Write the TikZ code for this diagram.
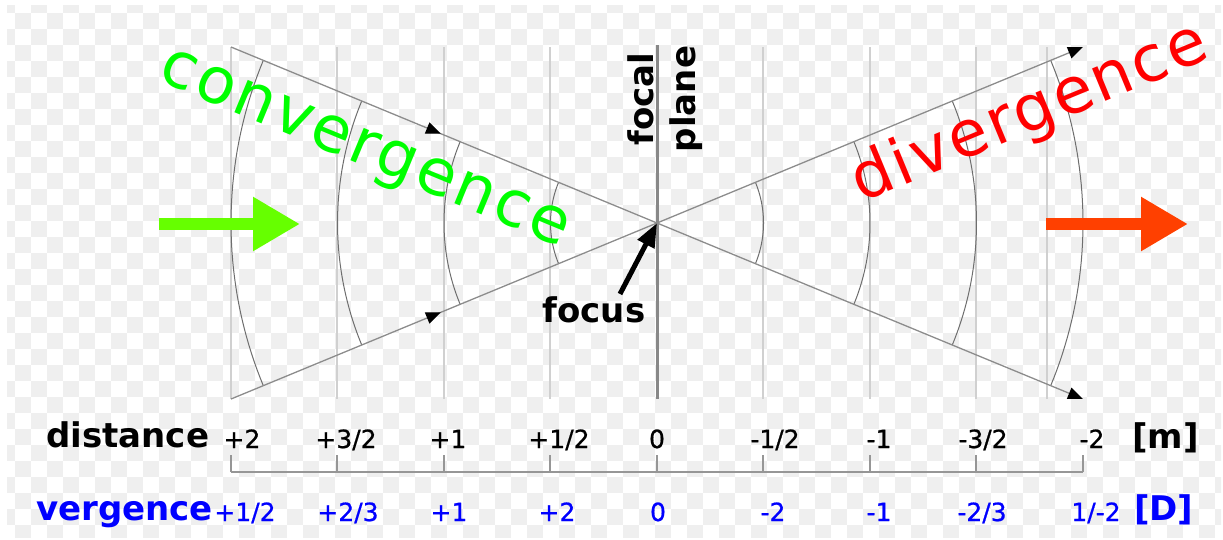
\documentclass[tikz,border=0pt]{standalone}
\usepackage{fontspec}
\setmainfont{DejaVu Sans}
\newfontfamily\numfont[FakeBold=0.8]{DejaVu Sans}
\usetikzlibrary{arrows.meta,decorations.markings}
\definecolor{checker}{RGB}{239,239,239}
\definecolor{gridc}{RGB}{208,208,208}
\definecolor{rayc}{RGB}{140,140,140}
\definecolor{arcc}{RGB}{110,110,110}
\definecolor{planec}{RGB}{136,136,136}
\definecolor{convg}{RGB}{0,255,0}
\definecolor{divr}{RGB}{255,0,0}
\definecolor{garrow}{RGB}{102,255,0}
\definecolor{rarrow}{RGB}{255,64,0}
\definecolor{vblue}{RGB}{0,0,255}
\definecolor{axisc}{RGB}{150,150,150}
\begin{document}
\begin{tikzpicture}[x=1pt,y=-1pt,
  gridln/.style={draw=gridc,line width=1.2pt},
  planeln/.style={draw=planec,line width=3pt},
  rayline/.style={draw=rayc,line width=1.3pt},
  raytip/.style={-{Triangle[length=15pt,width=12pt,color=black]}},
  midtip/.style={postaction={decorate},decoration={markings,
     mark=at position 0.493 with {\arrow[color=black]{Triangle[length=15pt,width=12pt]}}}},
  wavearc/.style={draw=arcc,line width=1pt},
  axisln/.style={draw=axisc,line width=1.3pt},
  numlbl/.style={font=\numfont\fontsize{25}{30}\selectfont,anchor=base,inner sep=0pt},
  vnumlbl/.style={numlbl,text=vblue},
  bigword/.style={font=\fontsize{64}{70}\selectfont,inner sep=0pt},
  unitword/.style={font=\bfseries\fontsize{34}{40}\selectfont,inner sep=0pt,anchor=base west},
  fatarrow/.style={line width=12pt,-{Triangle[length=47pt,width=51pt]}},
]
\useasboundingbox (0,0) rectangle (1223,539);
% checkerboard background
\begin{scope}
\clip (7,5) rectangle (1221,537);
\foreach \i in {0,...,76}{
  \foreach \j in {0,...,33}{
    \ifodd\numexpr\i+\j\relax\else
      \fill[checker] ({-1+16*\i},{-3+16*\j}) rectangle ++(16,16);
    \fi
  }
}
\end{scope}
% grid lines
\foreach \x in {231,337,444,550,763,870,976,1047}
  \draw[gridln] (\x,47) -- (\x,399);
% key points
\coordinate (F) at (657,223);
\coordinate (UL) at (231,47);
\coordinate (LL) at (231,399);
\coordinate (UR) at (1083,47);
\coordinate (LR) at (1083,399);
% wavefronts
\foreach \r in {106.5,213,319.5,426}{
  \draw[wavearc] plot[domain=157.55:202.45,samples=40] ({657+\r*cos(\x)},{223+\r*sin(\x)});
  \draw[wavearc] plot[domain=-22.45:22.45,samples=40] ({657+\r*cos(\x)},{223+\r*sin(\x)});
}
% focal plane
\draw[planeln] (657,45) -- (657,399);
% rays
\draw[rayline,midtip] (UL) -- (F);
\draw[rayline,raytip] (F) -- (LR);
\draw[rayline,midtip] (LL) -- (F);
\draw[rayline,raytip] (F) -- (UR);
% axis
\draw[axisln] (231,472) -- (1083,472);
\foreach \x in {231,337,444,550,657,763,870,976,1083}
  \draw[axisln] (\x,455) -- (\x,472);
% distance labels
\node[numlbl] (d1) at (242,448) {+2};
\node[numlbl] (d2) at (346,448) {+3/2};
\node[numlbl] (d3) at (448,448) {+1};
\node[numlbl] (d4) at (559,448) {+1/2};
\node[numlbl] (d5) at (657,448) {0};
\node[numlbl] (d6) at (775,448) {-1/2};
\node[numlbl] (d7) at (879,448) {-1};
\node[numlbl] (d8) at (983,448) {-3/2};
\node[numlbl] (d9) at (1092,448) {-2};
% vergence labels
\node[vnumlbl] (v1) at (245,521) {+1/2};
\node[vnumlbl] (v2) at (348,521) {+2/3};
\node[vnumlbl] (v3) at (449,521) {+1};
\node[vnumlbl] (v4) at (557,521) {+2};
\node[vnumlbl] (v5) at (658,521) {0};
\node[vnumlbl] (v6) at (773,521) {-2};
\node[vnumlbl] (v7) at (879,521) {-1};
\node[vnumlbl] (v8) at (982,521) {-2/3};
\node[vnumlbl] (v9) at (1096,521) {1/-2};
% row titles and units
\node[unitword] (dist) at (46,447) {distance};
\node[unitword] (munit) at (1132,448) {[m]};
\node[unitword,text=vblue] (verg) at (36,520) {vergence};
\node[unitword,text=vblue] (dunit) at (1134,520) {[D]};
% big words
\node[bigword,text=convg,rotate=-22.45] (conv) at (363,153) {\addfontfeatures{LetterSpace=4}convergence};
\node[bigword,text=divr,rotate=22.45] (div) at (1030,114) {\addfontfeatures{LetterSpace=4}divergence};
% focal plane label
\node[font=\bfseries\fontsize{34}{42}\selectfont,inner sep=0pt,align=center,rotate=90] (fp) at (665,99) {focal\\plane};
% focus label and arrow
\node[font=\bfseries\fontsize{34}{40}\selectfont,inner sep=0pt,anchor=base] (focus) at (594,322) {focus};
\draw[line width=5pt,-{Triangle[length=24pt,width=18pt]}] ([xshift=26pt,yshift=2pt]focus.north) -- (F);
% fat arrows
\coordinate (ga1) at (159,224);
\coordinate (ga2) at (300,224);
\draw[fatarrow,draw=garrow,fill=garrow] (ga1) -- (ga2);
\coordinate (ra1) at (1046,224);
\coordinate (ra2) at (1188,224);
\draw[fatarrow,draw=rarrow,fill=rarrow] (ra1) -- (ra2);
\end{tikzpicture}
\end{document}
